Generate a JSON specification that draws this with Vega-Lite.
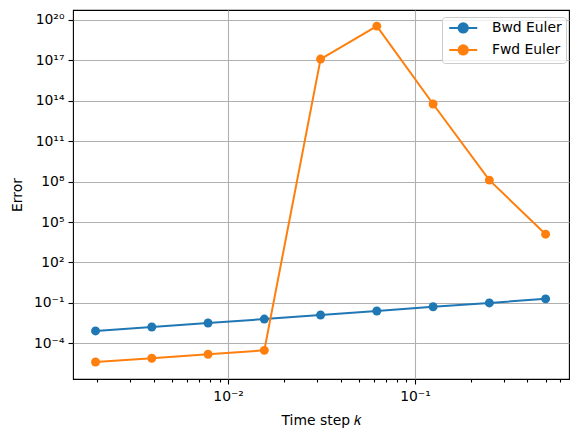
{
  "$schema": "https://vega.github.io/schema/vega-lite/v6.json",
  "width": 496,
  "height": 369,
  "autosize": {"type": "none"},
  "padding": {"left": 73, "top": 10, "right": 9, "bottom": 62},
  "background": "white",
  "data": {
    "values": [
      {"k": 0.001953125, "error": 0.00083, "method": "Bwd Euler"},
      {"k": 0.00390625, "error": 0.00162, "method": "Bwd Euler"},
      {"k": 0.0078125, "error": 0.00324, "method": "Bwd Euler"},
      {"k": 0.015625, "error": 0.0063, "method": "Bwd Euler"},
      {"k": 0.03125, "error": 0.0126, "method": "Bwd Euler"},
      {"k": 0.0625, "error": 0.025, "method": "Bwd Euler"},
      {"k": 0.125, "error": 0.052, "method": "Bwd Euler"},
      {"k": 0.25, "error": 0.1, "method": "Bwd Euler"},
      {"k": 0.5, "error": 0.2, "method": "Bwd Euler"},
      {"k": 0.001953125, "error": 4.1e-6, "method": "Fwd Euler"},
      {"k": 0.00390625, "error": 7.8e-6, "method": "Fwd Euler"},
      {"k": 0.0078125, "error": 1.55e-5, "method": "Fwd Euler"},
      {"k": 0.015625, "error": 3.0e-5, "method": "Fwd Euler"},
      {"k": 0.03125, "error": 1.26e17, "method": "Fwd Euler"},
      {"k": 0.0625, "error": 3.5e19, "method": "Fwd Euler"},
      {"k": 0.125, "error": 5.8e13, "method": "Fwd Euler"},
      {"k": 0.25, "error": 1.3e8, "method": "Fwd Euler"},
      {"k": 0.5, "error": 1.26e4, "method": "Fwd Euler"}
    ]
  },
  "encoding": {
    "x": {
      "field": "k",
      "type": "quantitative",
      "scale": {"type": "log", "domain": [0.00148, 0.667], "nice": false},
      "axis": {
        "title": "Time step 𝑘",
        "values": [0.002, 0.003, 0.004, 0.005, 0.006, 0.007, 0.008, 0.009, 0.01, 0.02, 0.03, 0.04, 0.05, 0.06, 0.07, 0.08, 0.09, 0.1, 0.2, 0.3, 0.4, 0.5, 0.6],
        "labelExpr": "datum.value == 0.01 ? '10⁻²' : datum.value == 0.1 ? '10⁻¹' : ''",
        "gridOpacity": {"condition": {"test": "datum.value == 0.01 || datum.value == 0.1", "value": 1}, "value": 0},
        "tickSize": {"condition": {"test": "datum.value == 0.01 || datum.value == 0.1", "value": 5}, "value": 3},
        "labelOverlap": false,
        "labelPadding": 5,
        "titlePadding": 11
      }
    },
    "y": {
      "field": "error",
      "type": "quantitative",
      "scale": {"type": "log", "domain": [2.25e-7, 5.5e20], "nice": false},
      "axis": {
        "title": "Error",
        "values": [1e-4, 1e-1, 1e2, 1e5, 1e8, 1e11, 1e14, 1e17, 1e20],
        "labelExpr": "datum.value < 1e-3 ? '10⁻⁴' : datum.value < 1 ? '10⁻¹' : datum.value < 1e3 ? '10²' : datum.value < 1e6 ? '10⁵' : datum.value < 1e9 ? '10⁸' : datum.value < 1e12 ? '10¹¹' : datum.value < 1e15 ? '10¹⁴' : datum.value < 1e18 ? '10¹⁷' : '10²⁰'",
        "tickSize": 5,
        "labelPadding": 4,
        "titlePadding": 9
      }
    },
    "color": {
      "field": "method",
      "type": "nominal",
      "scale": {"domain": ["Bwd Euler", "Fwd Euler"], "range": ["#1f77b4", "#ff7f0e"]},
      "legend": {
        "title": null,
        "orient": "none",
        "legendX": 369,
        "legendY": 7,
        "symbolType": "M-0.8,0 L5.2,0 M3.2,0 A1,1 0 1,1 1.2,0 A1,1 0 1,1 3.2,0 Z",
        "symbolSize": 87,
        "symbolStrokeWidth": 2,
        "labelFontSize": 13.9,
        "labelFont": "DejaVu Sans",
        "labelColor": "black",
        "labelOffset": 32,
        "rowPadding": 4,
        "padding": 4,
        "strokeColor": "#cccccc",
        "fillColor": "rgba(255,255,255,0.8)",
        "cornerRadius": 3,
        "encode": {
          "symbols": {
            "update": {
              "fill": {"scale": "color", "field": "value"},
              "stroke": {"scale": "color", "field": "value"},
              "opacity": {"value": 1}
            }
          }
        }
      }
    }
  },
  "layer": [
    {"mark": {"type": "line", "strokeWidth": 2, "clip": true}},
    {"mark": {"type": "circle", "size": 80, "opacity": 1, "clip": true}}
  ],
  "config": {
    "font": "DejaVu Sans",
    "view": {"stroke": "black", "strokeWidth": 1.1},
    "axis": {
      "domain": false,
      "grid": true,
      "gridColor": "#b0b0b0",
      "gridWidth": 1.1,
      "tickColor": "black",
      "tickWidth": 1.1,
      "labelFont": "DejaVu Sans",
      "labelFontSize": 13.9,
      "labelColor": "black",
      "titleFont": "DejaVu Sans",
      "titleFontSize": 13.9,
      "titleFontWeight": "normal",
      "titleColor": "black",
      "labelBound": false,
      "labelFlush": false
    }
  }
}
